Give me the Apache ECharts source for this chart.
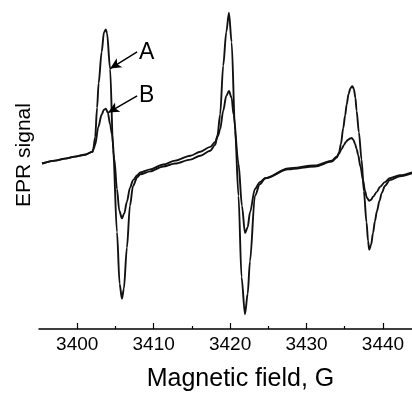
<!DOCTYPE html>
<html>
<head>
<meta charset="utf-8">
<script src="https://cdn.jsdelivr.net/npm/echarts@6/dist/echarts.min.js"></script>
<style>
html,body{margin:0;padding:0;background:#fff;}
#chart{width:412px;height:397px;}
</style>
</head>
<body>
<div id="chart"></div>
<script>
// Magnetic field (G) and EPR signal (arb. units) for trace A
var fieldA = [3395.4,3397.1,3398.4,3399.7,3401.0,3402.0,3402.1,3402.35,3402.6,3402.8,3403.2,3403.5,3403.75,3403.9,3404.3,3404.7,3405.2,3405.55,3405.85,3406.1,3406.5,3406.9,3407.3,3407.85,3408.25,3409.55,3411.25,3412.8,3414.8,3416.1,3417.4,3418.05,3418.35,3418.7,3419.1,3419.5,3419.85,3420.2,3420.65,3421.1,3421.5,3421.95,3422.3,3422.6,3423.25,3423.9,3424.6,3427.6,3431.1,3433.3,3433.95,3434.25,3434.5,3434.8,3435.05,3435.25,3435.5,3435.75,3436.0,3436.2,3436.4,3436.55,3436.85,3437.2,3437.5,3437.85,3438.05,3438.2,3438.45,3438.7,3438.95,3439.2,3439.55,3439.85,3440.25,3440.9,3442.2,3443.8];
var signalA = [-2,1,3,5,7,10,13,25,55,80,112,132,135,131,95,12,-72,-125,-140,-130,-88,-45,-25,-16,-13,-10,-5,-2,2,6,11,17,27,48,98,132,152,122,32,-35,-118,-156,-135,-102,-35,-23,-17,-8,-5,0,4,9,18,34,47,58,69,75,77,74,65,52,30,2,-30,-62,-81,-90,-85,-73,-61,-51,-40,-32,-25,-19,-15,-12];
// trace B
var fieldB = [3395.4,3397.1,3398.4,3399.7,3401.0,3402.0,3402.1,3402.35,3402.75,3403.2,3403.5,3403.75,3404.0,3404.3,3404.55,3404.85,3405.2,3405.5,3405.85,3406.15,3406.5,3406.9,3407.3,3407.85,3408.25,3409.55,3411.25,3412.8,3414.8,3416.1,3417.4,3418.05,3418.4,3418.7,3419.1,3419.5,3419.85,3420.2,3420.45,3421.1,3421.55,3421.95,3422.3,3422.6,3423.25,3423.9,3424.6,3427.6,3431.1,3433.3,3433.95,3434.25,3434.6,3434.9,3435.15,3435.4,3435.7,3435.9,3436.15,3436.35,3436.55,3436.75,3437.05,3437.4,3437.65,3437.9,3438.2,3438.45,3438.7,3439.2,3439.6,3440.25,3440.9,3442.2,3443.8];
var signalB = [-2,1,3,5,7,10,12,17,35,48,53,54,50,38,28,3,-28,-50,-58,-53,-41,-27,-19,-14,-11,-8,-3,1,6,10,15,20,26,33,52,67,72,65,48,-2,-45,-73,-67,-52,-28,-21,-17,-7,-4,1,5,8,13,17,20,22,23.5,24,22,18,13,7,-5,-19,-30,-37,-40,-39,-36,-31,-26,-21,-17,-14,-11];
// axis ticks
var majorTicks = [3400,3410,3420,3430,3440];
var minorTicks = [3405,3415,3425,3435];
// annotation arrows: [from field, from signal, to field, to signal]
var arrowA = [3407.84,112,3404.31,95];
var arrowB = [3407.84,67,3404.05,50];
var labelPosA = [3409.1,111];
var labelPosB = [3409.1,67];

function pairs(xs, ys){ return xs.map(function(x,i){ return [x, ys[i]]; }); }

var FONT = '"Liberation Sans", Arial, Helvetica, sans-serif';
var chart = echarts.init(document.getElementById('chart'), null, {renderer:'canvas'});
var lineStyle = {color:'#111', width:1.9};

chart.setOption({
  animation:false,
  backgroundColor:'#fff',
  grid:{left:39, right:0, top:0, bottom:61, containLabel:false},
  xAxis:[{
    type:'value', min:3395, max:3443.8, position:'bottom',
    axisLine:{show:true, onZero:false, lineStyle:{color:'#000', width:1.5}},
    axisTick:{show:true, inside:true, length:6, lineStyle:{color:'#000', width:1.2}, customValues:majorTicks},
    axisLabel:{show:true, customValues:majorTicks, margin:6, fontSize:19, color:'#000', fontFamily:FONT,
      formatter:function(v){return String(v);}},
    splitLine:{show:false},
    name:'Magnetic field, G', nameLocation:'middle', nameGap:38,
    nameTextStyle:{fontSize:25, color:'#000', fontFamily:FONT, padding:[0,0,0,30]}
  },{
    type:'value', min:3395, max:3443.8, position:'bottom',
    axisLine:{show:false, onZero:false},
    axisTick:{show:true, inside:true, length:3, lineStyle:{color:'#000', width:1.2}, customValues:minorTicks},
    axisLabel:{show:false},
    splitLine:{show:false}
  }],
  yAxis:{
    type:'value', min:-171, max:165,
    axisLine:{show:false}, axisTick:{show:false}, axisLabel:{show:false}, splitLine:{show:false}
  },
  graphic:[{
    type:'text', x:24, y:155, rotation:Math.PI/2,
    style:{text:'EPR signal', fontSize:21, fill:'#000', fontFamily:FONT, align:'center', verticalAlign:'middle'}
  }],
  series:[{
    name:'A', type:'line', data:pairs(fieldA, signalA), showSymbol:false, smooth:0.3, smoothMonotone:'x',
    lineStyle:lineStyle, itemStyle:{color:'#111'},
    markLine:{
      silent:true, symbol:['none','arrow'], symbolSize:[8,11],
      lineStyle:{color:'#000', width:1.5, type:'solid'}, label:{show:false},
      data:[
        [{coord:[arrowA[0],arrowA[1]]},{coord:[arrowA[2],arrowA[3]]}],
        [{coord:[arrowB[0],arrowB[1]]},{coord:[arrowB[2],arrowB[3]]}]
      ]
    },
    markPoint:{
      silent:true, symbol:'circle', symbolSize:0,
      label:{show:true, position:'inside', fontSize:23, color:'#000', fontFamily:FONT, formatter:function(p){return p.name;}},
      data:[{name:'A', coord:labelPosA},{name:'B', coord:labelPosB}]
    }
  },{
    name:'B', type:'line', data:pairs(fieldB, signalB), showSymbol:false, smooth:0.3, smoothMonotone:'x',
    lineStyle:lineStyle, itemStyle:{color:'#111'}
  }]
});
</script>
</body>
</html>
